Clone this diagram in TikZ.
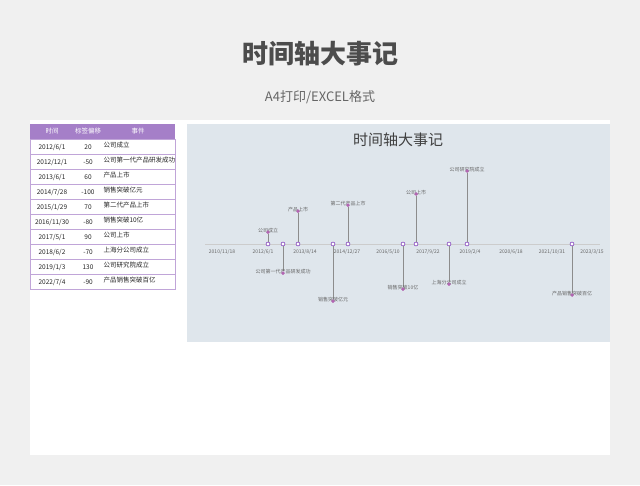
\documentclass[tikz,border=0pt]{standalone}
\usepackage{fontspec}
\setmainfont{Noto Sans CJK SC}
\begin{document}
\begin{tikzpicture}[x=1pt,y=-1pt,
  cell/.style={font=\fontsize{6.5}{7}\selectfont,text=black!85},
  hd/.style={font=\fontsize{6.5}{7}\selectfont,text=white},
  ax/.style={font=\fontsize{5}{6}\selectfont,text=black!60},
  lab/.style={font=\fontsize{5}{6}\selectfont,text=black!60},
  ring/.style={circle,draw=violet!70!blue,fill=white,line width=0.4pt,inner sep=0pt,minimum size=4pt},
  dot/.style={circle,fill=violet!60,inner sep=0pt,minimum size=3.5pt},
  stem/.style={draw=black!45,line width=0.9pt}]
\definecolor{pur}{HTML}{A57FC8}
\definecolor{chartbg}{HTML}{DFE6EC}
\fill[black!6] (0,0) rectangle (640,485);
\useasboundingbox (0,0) rectangle (640,485);
\fill[white] (30,120) rectangle (610,455);
\node[font=\fontsize{26}{28}\selectfont\bfseries,text=black!70] (title) at (320,54) {时间轴大事记};
\node[font=\fontsize{13}{14}\selectfont,text=black!60] (sub) at (320,97) {A4打印/EXCEL格式};
% table
\fill[pur] (30,124) rectangle (175,139);
\node[hd] (h1) at (52,131.5) {时间};
\node[hd] (h2) at (88,131.5) {标签偏移};
\node[hd] (h3) at (138,131.5) {事件};
\foreach \i/\d/\o/\e in {0/2012\slash 6\slash 1/20/公司成立,1/2012\slash 12\slash 1/-50/公司第一代产品研发成功,2/2013\slash 6\slash 1/60/产品上市,3/2014\slash 7\slash 28/-100/销售突破亿元,4/2015\slash 1\slash 29/70/第二代产品上市,5/2016\slash 11\slash 30/-80/销售突破10亿,6/2017\slash 5\slash 1/90/公司上市,7/2018\slash 6\slash 2/-70/上海分公司成立,8/2019\slash 1\slash 3/130/公司研究院成立,9/2022\slash 7\slash 4/-90/产品销售突破百亿}{
  \draw[pur!70,line width=0.4pt] (30,139+15*\i) rectangle (175,154+15*\i);
  \node[cell] (d\i) at (52,147+15*\i) {\d};
  \node[cell] (o\i) at (88,147+15*\i) {\o};
  \node[cell,anchor=west] (e\i) at (100,145+15*\i) {\e};
}
% chart
\fill[chartbg] (187,124) rectangle (610,342);
\node[font=\fontsize{15}{16}\selectfont,text=black!75] (ct) at (398,140) {时间轴大事记};
\coordinate (a0) at (205,244); \coordinate (a1) at (600,244);
\draw[black!20,line width=0.5pt] (a0) -- (a1);
\foreach \x/\t in {222/2010\slash 11\slash 18,263/2012\slash 6\slash 1,305/2013\slash 8\slash 14,347/2014\slash 12\slash 27,388/2016\slash 5\slash 10,428/2017\slash 9\slash 22,470/2019\slash 2\slash 4,511/2020\slash 6\slash 18,552/2021\slash 10\slash 31,592/2023\slash 3\slash 15}
  \node[ax] (t\x) at (\x,252) {\t};
\foreach \k/\x/\y/\t in {1/268/232/公司成立,2/283/273/公司第一代产品研发成功,3/298/211/产品上市,4/333/301/销售突破亿元,5/348/205/第二代产品上市,6/403/289/销售突破10亿,7/416/194/公司上市,8/449/284/上海分公司成立,9/467/171/公司研究院成立,10/572/295/产品销售突破百亿}{
  \node[ring] (r\k) at (\x,244) {};
  \node[dot] (p\k) at (\x,\y) {};
  \draw[stem] (r\k) -- (p\k);
  \node[lab] (l\k) at (\x,\y-1.5) {\t};
  \node[dot] at (\x,\y) {};
}
\end{tikzpicture}
\end{document}
